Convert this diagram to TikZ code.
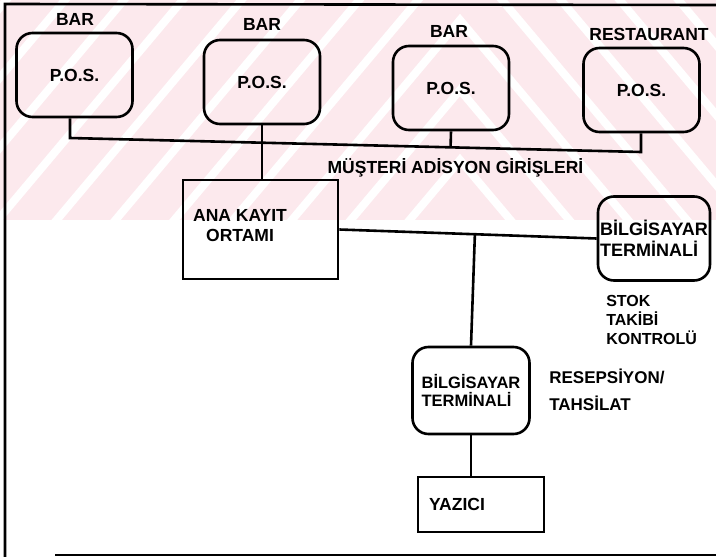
\documentclass[tikz,border=0pt]{standalone}
\usepackage{fontspec}
\setmainfont{Liberation Sans}
\usetikzlibrary{calc}
\definecolor{wmpink}{RGB}{252,233,237}
\begin{document}
\begin{tikzpicture}[x=1pt,y=-1pt,line width=2.6pt,
  txt/.style={inner sep=0pt,font=\bfseries\fontsize{17.5}{20}\selectfont},
  posbox/.style={draw,rounded corners=16pt,minimum width=116pt,minimum height=84pt,
    inner sep=0pt,font=\bfseries\fontsize{17.5}{20}\selectfont},
  termbox/.style={draw,rounded corners=16pt,inner sep=0pt,align=left},
  plainbox/.style={draw,inner sep=0pt}]
\useasboundingbox (0,0) rectangle (716,557);

% pale striped background band
\begin{scope}
  \clip (0,0) rectangle (716,220);
  \fill[wmpink] (0,0) rectangle (716,220);
  \foreach \a in {-540,-470,...,220}
    \draw[white,line width=8pt,line join=miter] (-145,\a+720) -- (460,\a) -- (1065,\a+720);
\end{scope}

% frame
\coordinate (ftl) at (5,4);
\coordinate (ftr) at (716,5);
\coordinate (fbl) at (5,557);
\coordinate (fbs) at (55,555);
\coordinate (fbr) at (716,555);
\draw (ftr) -- (ftl) -- (fbl);
\draw (fbs) -- (fbr);

% point-of-sale units
\node[posbox] (p1) at (74.5,75) {P.O.S.};
\node[posbox] (p2) at (262,82) {P.O.S.};
\node[posbox] (p3) at (451,88) {P.O.S.};
\node[posbox] (p4) at (641.5,90) {P.O.S.};

\node[txt] (l1) at (75,19) {BAR};
\node[txt] (l2) at (262,24) {BAR};
\node[txt] (l3) at (449,31) {BAR};
\node[txt] (l4) at (649,34) {RESTAURANT};

% bus joining the units
\coordinate (bw) at (70,138);
\coordinate (be) at (641,152);
\draw (p1.south -| bw) -- (bw) -- (be) -- (p4.south -| be);
\draw (p3.south) -- ($(bw)!(p3.south)!(be)$);

\node[txt] (must) at (455.5,168) {MÜŞTERİ ADİSYON GİRİŞLERİ};

% central storage
\node[plainbox,minimum width=155pt,minimum height=99pt] (ana) at (260.5,229.5) {};
\node[txt,align=center,font=\bfseries\fontsize{17.5}{20}\selectfont] (anat) at (240,226) {ANA KAYIT\\ORTAMI};
\draw (p2.south) -- (ana.north -| p2.south);

% stock terminal
\node[termbox,minimum width=112pt,minimum height=84pt,
  font=\bfseries\fontsize{18}{21}\selectfont] (t1) at (654,238.5) {BİLGİSAYAR\\TERMİNALİ};
\draw (ana.east) -- (t1.west);
\node[txt,align=left,anchor=west,font=\bfseries\fontsize{16}{19}\selectfont] (stok) at (605,320) {STOK\\TAKİBİ\\KONTROLÜ};

% reception terminal
\node[termbox,minimum width=117pt,minimum height=87pt,
  font=\bfseries\fontsize{16.5}{18}\selectfont] (t2) at (471,390.5) {BİLGİSAYAR\\TERMİNALİ};
\draw (t2.north) -- ($(ana.east)!(t2.north)!(t1.west)$);
\node[txt,align=left,anchor=west,font=\bfseries\fontsize{17}{27}\selectfont] (res) at (548,390) {RESEPSİYON/\\TAHSİLAT};

% printer
\node[plainbox,minimum width=126pt,minimum height=55pt] (yaz) at (481,504.5) {};
\node[txt] (yazt) at (457,504.5) {YAZICI};
\draw (t2.south) -- (yaz.north -| t2.south);
\end{tikzpicture}
\end{document}
